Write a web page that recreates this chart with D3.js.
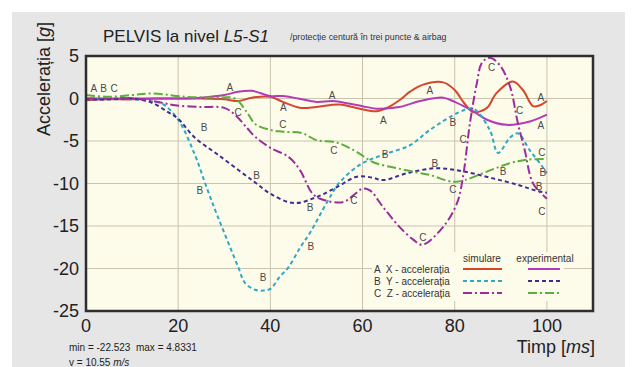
<!DOCTYPE html>
<html><head><meta charset="utf-8">
<script src="https://cdn.jsdelivr.net/npm/d3@7"></script>
<style>
html,body{margin:0;padding:0;background:#fff;}
svg{display:block;font-family:"Liberation Sans",Arial,sans-serif;}
</style></head>
<body><svg id="c" width="633" height="367"></svg>
<script>
// ---- data ----
const xTicks = [0, 20, 40, 60, 80, 100];
const yTicks = [5, 0, -5, -10, -15, -20, -25];
const simX = [[0,-0.2],[5,-0.1],[10,-0.1],[15,0],[20,0],[25,0],[30,-0.1],[33,-0.3],[36,0.1],[40,0.2],[42.7,-0.4],[46.4,-1.1],[50,-1.0],[55,-0.7],[59.4,-1.2],[63,-1.5],[65.3,-1.1],[68,-0.2],[70.3,0.8],[73,1.6],[77.5,1.9],[80,1.0],[82,-0.5],[84,-1.6],[87,-1.1],[89,0.6],[92.6,2.0],[94.8,1.0],[97,-0.9],[98.5,-0.8],[100,-0.3]];
const expX = [[0,0],[10,0],[20,0],[25,0.1],[30,0.4],[33,0.8],[36,0.9],[40,0.3],[42.7,0.3],[46,0],[50,-0.4],[53.6,-0.3],[57,-0.6],[60,-0.9],[63,-1.2],[68,-1.0],[72.5,-0.3],[77.5,0.1],[80,-0.4],[84,-1.5],[87,-2.5],[91.3,-3.1],[96.3,-2.7],[100,-1.9]];
const simY = [[0,-0.1],[5,-0.1],[10,-0.1],[14,-0.3],[16.5,-0.6],[20,-2.5],[23.6,-6.6],[26,-10.2],[28,-13.1],[30,-15.8],[33,-19.8],[34.5,-21.7],[36.7,-22.5],[38.5,-22.6],[40,-22.4],[42,-21],[44,-19.8],[46.5,-17.5],[48.6,-15.8],[52.3,-12.2],[55,-9.9],[59.4,-7.8],[64.5,-6.6],[70.3,-5.5],[74.6,-3.7],[81,-1.6],[84,-1.2],[87.6,-3.7],[89.4,-6.4],[92,-4.6],[93.7,-4.1],[96.3,-6.1],[99,-8],[100,-8.8]];
const expY = [[0,-0.1],[5,-0.1],[10,0],[14.3,-0.5],[17.8,-1.6],[20,-2.4],[23.6,-4.6],[28.6,-6.6],[34.5,-9],[37,-10],[40,-11.2],[45,-12.3],[50,-11.6],[54.5,-10.4],[58.8,-9.2],[62,-9.3],[64.5,-9.6],[69.6,-8.8],[76,-8.2],[82,-8.6],[88.3,-9.4],[94,-10.2],[97.4,-10.8],[100,-11.1]];
const simZ = [[0,0],[5,0],[10.6,0],[15.6,-0.4],[19.3,-0.8],[25,-1],[30,-1.1],[32.3,-1.9],[35,-3.5],[36.7,-4.5],[40,-5.8],[44,-6.9],[46.4,-8.4],[49,-11.1],[50.8,-11.8],[55.7,-12.2],[58,-11.4],[60,-10.6],[61.6,-10.8],[64.5,-12.8],[68,-15.1],[71,-16.6],[73,-17.2],[77.5,-15.1],[80.5,-12.3],[81.8,-9.2],[83.3,-2.9],[84.8,1.8],[85.9,4.2],[87.6,4.8],[89.8,3.9],[92,1.4],[93.7,-2.9],[95.2,-6.1],[97,-10],[100,-11.8]];
const expZ = [[0,0.4],[4.8,0.2],[10,0.4],[14.3,0.6],[21.5,0.2],[28,0.1],[32.3,0],[35,-1.7],[36.7,-3.0],[40,-3.7],[42.7,-3.9],[47,-4.1],[50,-4.9],[54.5,-5.2],[58.8,-6.3],[62.3,-7.5],[67.5,-8.2],[71.8,-8.7],[74.6,-9],[79.6,-9.8],[82.2,-9.6],[87,-8.6],[92,-7.6],[95.6,-7.2],[100,-7.1]];
const curveLabels = [["A",1.7,1.2],["B",3.8,1.2],["C",6.1,1.2],
 ["A",31.2,1.3],["A",42.8,-1.0],["A",53.4,0.4],["A",64.5,-2.6],["A",74.6,0.9],["A",98.7,0.1],["A",98.7,-3.2],
 ["C",33,-1.7],["B",25.6,-3.4],["C",42.7,-3.1],["C",53.8,-6.1],["B",64.9,-6.6],["B",24.7,-10.8],["B",37,-9],
 ["B",48.6,-12.8],["C",58.1,-12.0],["B",48.8,-17.4],["B",38.4,-21],["C",73.1,-16.3],["C",79.6,-10.7],["B",75.7,-7.6],
 ["B",90.5,-8.6],["C",81.8,-4.8],["B",79.6,-2.8],["C",94.1,-1.4],["C",88,3.7],["C",98.9,-6.4],["B",99.1,-8.7],
 ["B",98.3,-10.4],["C",98.9,-13.3]];
const legendRows = [["A","X - accelerația"],["B","Y - accelerația"],["C","Z - accelerația"]];
const legendCols = ["simulare","experimental"];

// ---- styles ----
const series = [
  {d:simX, color:"#d4472c", dash:null, row:0, col:0},
  {d:expX, color:"#b43ab8", dash:null, row:0, col:1},
  {d:simY, color:"#2fa7c9", dash:"4,3", row:1, col:0},
  {d:expY, color:"#3b2e8e", dash:"4,3", row:1, col:1},
  {d:simZ, color:"#9a2c9c", dash:"9,3,2,3", row:2, col:0},
  {d:expZ, color:"#5aae3a", dash:"9,3,2,3", row:2, col:1}
];

const svg = d3.select("#c");
const L = 86, R = 593, T = 56, B = 311;
const x = d3.scaleLinear().domain([0,110]).range([L,R]);
const y = d3.scaleLinear().domain([-25,5]).range([B,T]);

svg.append("rect").attr("x",12).attr("y",12).attr("width",613).attr("height",355).attr("fill","#e6e6e6");
svg.append("rect").attr("x",L).attr("y",T).attr("width",R-L).attr("height",B-T).attr("fill","#fdfbe9");

// grid
const g = svg.append("g");
g.selectAll(".vg").data(xTicks.filter(d=>d>0)).join("line")
  .attr("x1",d=>x(d)).attr("x2",d=>x(d)).attr("y1",T).attr("y2",B)
  .attr("stroke","#c9c4ae").attr("stroke-width",1);
g.selectAll(".hg").data(yTicks.filter(d=>d<5 && d>-25)).join("line")
  .attr("x1",L).attr("x2",R).attr("y1",d=>y(d)).attr("y2",d=>y(d))
  .attr("stroke","#c9c4ae").attr("stroke-width",1);

// legend background
svg.append("rect").attr("x",372).attr("y",252).attr("width",192).attr("height",49).attr("fill","#fdfbe9");

// curves
const line = d3.line().x(d=>x(d[0])).y(d=>y(d[1])).curve(d3.curveCatmullRom.alpha(0.5));
const cg = svg.append("g");
series.forEach(s=>{
  cg.append("path").attr("d",line(s.d)).attr("fill","none")
    .attr("stroke",s.color).attr("stroke-width",2)
    .attr("stroke-dasharray",s.dash);
});

// curve labels
svg.append("g").selectAll("text").data(curveLabels).join("text")
  .attr("x",d=>x(d[1])).attr("y",d=>y(d[2])).attr("dy","0.35em")
  .attr("text-anchor","middle").attr("font-size",10).attr("fill","#4a4a4a").text(d=>d[0]);

// frame
svg.append("rect").attr("x",L).attr("y",T).attr("width",R-L).attr("height",B-T)
  .attr("fill","none").attr("stroke","#2e2e2e").attr("stroke-width",2.5);

// ticks
svg.append("g").selectAll("text").data(yTicks).join("text")
  .attr("x",79).attr("y",d=>y(d)).attr("dy","0.36em").attr("text-anchor","end")
  .attr("font-size",18).attr("fill","#222").text(d=>d);
svg.append("g").selectAll("text").data(xTicks).join("text")
  .attr("x",d=>x(d)).attr("y",332).attr("text-anchor","middle")
  .attr("font-size",18).attr("fill","#222").text(d=>d);

// titles
const t1 = svg.append("text").attr("x",103).attr("y",42).attr("font-size",17).attr("fill","#222");
t1.append("tspan").text("PELVIS la nivel ");
t1.append("tspan").attr("font-style","italic").text("L5-S1");
svg.append("text").attr("x",290).attr("y",40).attr("font-size",8.8).attr("fill","#333")
  .text("/protecție centură în trei puncte & airbag");

const yl = svg.append("text").attr("transform","translate(50,79) rotate(-90)")
  .attr("text-anchor","middle").attr("font-size",18).attr("fill","#222");
yl.append("tspan").text("Accelerația [");
yl.append("tspan").attr("font-style","italic").text("g");
yl.append("tspan").text("]");

const xl = svg.append("text").attr("x",595).attr("y",353).attr("text-anchor","end")
  .attr("font-size",18).attr("fill","#222");
xl.append("tspan").text("Timp [");
xl.append("tspan").attr("font-style","italic").text("ms");
xl.append("tspan").text("]");

svg.append("text").attr("x",69).attr("y",351).attr("font-size",10).attr("fill","#222")
  .attr("xml:space","preserve").style("white-space","pre").text("min = -22.523  max = 4.8331");
const vt = svg.append("text").attr("x",69).attr("y",366).attr("font-size",10).attr("fill","#222");
vt.append("tspan").text("v = 10.55 ");
vt.append("tspan").attr("font-style","italic").text("m/s");

// legend
const lg = svg.append("g");
const colX = [[463,502],[528,560]];
const colTx = [482,545];
const rowY = [269,281,293];
lg.selectAll(".hd").data(legendCols).join("text")
  .attr("x",(d,i)=>colTx[i]).attr("y",262).attr("text-anchor","middle")
  .attr("font-size",10).attr("fill","#333").text(d=>d);
lg.selectAll(".rl").data(legendRows).join("text")
  .attr("x",374).attr("y",(d,i)=>rowY[i]).attr("dy","0.35em")
  .attr("font-size",10).attr("fill","#333")
  .attr("xml:space","preserve").style("white-space","pre")
  .text(d=>d[0]+"  "+d[1]);
series.forEach(s=>{
  lg.append("line").attr("x1",colX[s.col][0]).attr("x2",colX[s.col][1])
    .attr("y1",rowY[s.row]).attr("y2",rowY[s.row])
    .attr("stroke",s.color).attr("stroke-width",2).attr("stroke-dasharray",s.dash);
});
</script></body></html>
